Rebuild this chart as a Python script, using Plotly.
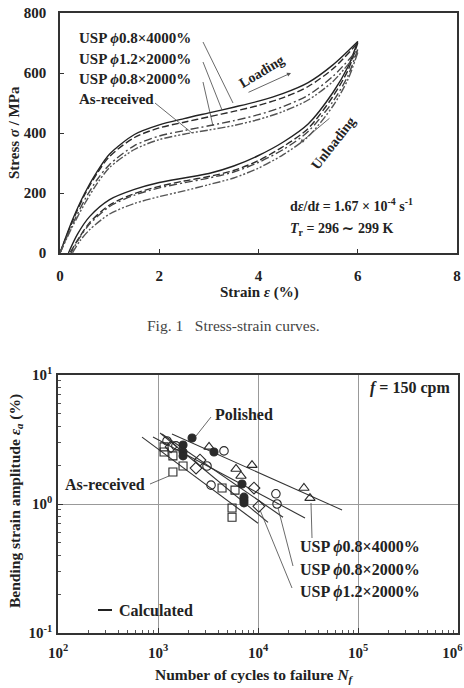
import plotly.graph_objects as go

W, H = 464, 688
FONT = "Liberation Serif"
INK = "#222222"

# ---------------- Top chart: stress-strain curves ----------------
load_strain = [0, 0.25, 0.5, 0.75, 1.0, 1.5, 2.0, 2.5, 3.0, 3.5, 4.0, 4.5, 5.0, 5.5, 6.0]

usp08_4000_load = [0, 110, 200, 272, 330, 395, 427, 448, 467, 486, 506, 532, 568, 627, 705]
usp12_2000_load = [0, 105, 195, 266, 322, 385, 417, 436, 454, 472, 492, 518, 555, 614, 700]
usp08_2000_load = [0, 95, 178, 245, 295, 358, 390, 408, 424, 441, 461, 488, 526, 589, 678]
asrec_load = [0, 88, 165, 232, 285, 345, 378, 396, 410, 425, 445, 472, 510, 572, 668]

usp08_4000_unload_strain = [6.0, 5.8, 5.5, 5.0, 4.5, 4.0, 3.5, 3.0, 2.5, 2.0, 1.5, 1.0, 0.6, 0.35, 0.17]
usp08_4000_unload = [705, 620, 535, 430, 370, 325, 290, 265, 250, 235, 212, 178, 122, 62, 0]
usp12_2000_unload_strain = [6.0, 5.8, 5.5, 5.0, 4.5, 4.0, 3.5, 3.0, 2.5, 2.0, 1.5, 1.0, 0.6, 0.4, 0.2]
usp12_2000_unload = [700, 608, 522, 415, 355, 308, 275, 255, 240, 222, 198, 160, 102, 55, 0]
usp08_2000_unload_strain = [6.0, 5.8, 5.5, 5.0, 4.5, 4.0, 3.5, 3.0, 2.5, 2.0, 1.5, 1.0, 0.6, 0.4, 0.22]
usp08_2000_unload = [678, 590, 505, 405, 345, 302, 270, 250, 234, 217, 193, 155, 97, 52, 0]
asrec_unload_strain = [6.0, 5.8, 5.5, 5.0, 4.5, 4.0, 3.5, 3.0, 2.5, 2.0, 1.5, 1.0, 0.6, 0.4, 0.25]
asrec_unload = [668, 578, 490, 388, 328, 283, 250, 228, 207, 188, 165, 130, 78, 40, 0]

top_xticks = [0, 2, 4, 6, 8]
top_yticks = [0, 200, 400, 600, 800]

# ---------------- Bottom chart: fatigue data ----------------
tri_N = [3240, 6030, 6760, 8710, 28800, 33100]          # USP phi0.8 x 4000%
tri_e = [2.77, 1.87, 1.65, 2.00, 1.33, 1.11]
pol_N = [2190, 1780, 1780, 1780, 3630, 6920, 7240, 7240, 7240]   # Polished
pol_e = [3.25, 2.87, 2.53, 2.36, 2.53, 1.43, 1.13, 1.07, 1.02]
cir_N = [1230, 1510, 4570, 3090, 3390, 15100, 15500]     # USP phi0.8 x 2000%
cir_e = [3.08, 2.82, 2.58, 1.97, 1.40, 1.20, 1.00]
dia_N = [1350, 2630, 2400, 9120, 10200]                  # USP phi1.2 x 2000%
dia_e = [2.77, 2.19, 1.90, 1.33, 0.96]
sq_N = [1150, 1150, 1410, 1780, 1410, 4370, 5890, 5500, 5500]   # As-received
sq_e = [2.77, 2.53, 2.36, 1.97, 1.77, 1.33, 1.28, 0.93, 0.79]

# calculated lines (end points)
calc_tri_N = [1380, 69200]; calc_tri_e = [3.49, 0.90]
calc_cir_N = [891, 29500];  calc_cir_e = [3.30, 0.78]
calc_dia_N = [1096, 17800]; calc_dia_e = [3.49, 0.79]
calc_pol_N = [1050, 12600]; calc_pol_e = [3.55, 0.72]
calc_asr_N = [692, 10000];  calc_asr_e = [3.30, 0.71]

bot_xticks = [1e2, 1e3, 1e4, 1e5, 1e6]
bot_xlabels = ["10<sup>2</sup>", "10<sup>3</sup>", "10<sup>4</sup>", "10<sup>5</sup>",
               "10<sup>6</sup>\u00a0\u00a0\u00a0"]
bot_yticks = [0.1, 1, 10]
bot_ylabels = ["10<sup>-1</sup>", "10<sup>0</sup>", "10<sup>1</sup>"]


def px(x, y):
    return x / W, 1 - y / H


fig = go.Figure()

dash_styles = {
    "solid": "solid",
    "dash": "7px,3px",
    "dashdot": "8px,3px,2px,3px",
    "dashdotdot": "8px,2px,2px,2px,2px,2px",
}
top_series = [
    (usp08_4000_load, usp08_4000_unload_strain, usp08_4000_unload, "solid", "#222"),
    (usp12_2000_load, usp12_2000_unload_strain, usp12_2000_unload, "dash", "#2a2a2a"),
    (usp08_2000_load, usp08_2000_unload_strain, usp08_2000_unload, "dashdot", "#444"),
    (asrec_load, asrec_unload_strain, asrec_unload, "dashdotdot", "#555"),
]
for ld, us, ul, ds, col in top_series:
    for xs, ys in ((load_strain, ld), (us, ul)):
        fig.add_trace(go.Scatter(
            x=xs, y=ys, mode="lines", xaxis="x", yaxis="y",
            line=dict(color=col, width=1.4, dash=dash_styles[ds], shape="spline", smoothing=0.8),
            showlegend=False, hoverinfo="skip"))

# bottom: calculated lines
for xs, ys in ((calc_tri_N, calc_tri_e), (calc_cir_N, calc_cir_e), (calc_dia_N, calc_dia_e),
               (calc_pol_N, calc_pol_e), (calc_asr_N, calc_asr_e)):
    fig.add_trace(go.Scatter(x=xs, y=ys, mode="lines", xaxis="x2", yaxis="y2",
                             line=dict(color="#333", width=1.1), showlegend=False, hoverinfo="skip"))

marker_sets = [
    (sq_N, sq_e, "square-open", 8),
    (dia_N, dia_e, "diamond-open", 9),
    (cir_N, cir_e, "circle-open", 8.5),
    (tri_N, tri_e, "triangle-up-open", 9),
    (pol_N, pol_e, "circle", 8),
]
for xs, ys, sym, sz in marker_sets:
    fig.add_trace(go.Scatter(
        x=xs, y=ys, mode="markers", xaxis="x2", yaxis="y2",
        marker=dict(symbol=sym, size=sz, color="#2a2a2a",
                    line=dict(color="#2a2a2a", width=1.1)),
        showlegend=False, hoverinfo="skip"))

tickfont = dict(family=FONT, size=15, color=INK, weight="bold")
axis_common = dict(showline=True, linecolor="#333", linewidth=1.5, mirror=True,
                   ticks="inside", tickcolor="#333", automargin=False, zeroline=False,
                   ticklabeloverflow="allow")

minor_x = [d * 10 ** k for k in range(2, 6) for d in range(2, 10)]
minor_y = [d * 10 ** k for k in range(-1, 1) for d in range(2, 10)]

fig.update_layout(
    width=W, height=H, margin=dict(l=0, r=0, t=0, b=0),
    paper_bgcolor="white", plot_bgcolor="white", showlegend=False,
    xaxis=dict(domain=[60 / W, 457 / W], anchor="y", range=[0, 8], tickvals=top_xticks,
               ticklen=4, tickfont=tickfont, showgrid=False, ticklabelstandoff=8, **axis_common),
    yaxis=dict(domain=[1 - 253 / H, 1 - 13 / H], anchor="x", range=[0, 800], tickvals=top_yticks,
               ticklen=4, tickfont=tickfont, showgrid=False, ticklabelstandoff=9, **axis_common),
    xaxis2=dict(domain=[58 / W, 458 / W], anchor="y2", type="log", range=[2, 6],
                tickvals=bot_xticks, ticktext=bot_xlabels, ticklen=5, tickfont=tickfont,
                showgrid=True, gridcolor="#999", gridwidth=0.9, ticklabelstandoff=5,
                minor=dict(tickmode="array", tickvals=minor_x, ticks="inside", ticklen=3,
                           tickcolor="#555", showgrid=False),
                **axis_common),
    yaxis2=dict(domain=[1 - 633 / H, 1 - 375 / H], anchor="x2", type="log", range=[-1, 1],
                tickvals=bot_yticks, ticktext=bot_ylabels, ticklen=5, tickfont=tickfont,
                showgrid=True, gridcolor="#999", gridwidth=0.9, ticklabelstandoff=1,
                minor=dict(tickmode="array", tickvals=minor_y, ticks="inside", ticklen=3,
                           tickcolor="#555", showgrid=False),
                **axis_common),
)


def ann(text, x, y, size=15, xanchor="center", yanchor="middle", angle=0, bold=True, color=INK):
    X, Y = px(x, y)
    return dict(text=text, x=X, y=Y, xref="paper", yref="paper", showarrow=False,
                xanchor=xanchor, yanchor=yanchor, textangle=angle,
                font=dict(family=FONT, size=size, color=color, weight="bold" if bold else "normal"))


def arrow(x0, y0, x1, y1, color="#555"):
    X, Y = px(x1, y1)
    return dict(text="", x=X, y=Y, xref="paper", yref="paper", showarrow=True,
                ax=x0 - x1, ay=y0 - y1, axref="pixel", ayref="pixel",
                arrowhead=2, arrowsize=0.9, arrowwidth=0.9, arrowcolor=color)


phi = "<i>ϕ</i>"
anns = [
    # top chart
    ann("Stress <i>σ</i> / MPa", 14, 133, angle=-90),
    ann("Strain <i>ε</i> (%)", 259, 292),
    ann(f"USP {phi}0.8×4000%", 77, 38, xanchor="left"),
    ann(f"USP {phi}1.2×2000%", 77, 59, xanchor="left"),
    ann(f"USP {phi}0.8×2000%", 77, 79, xanchor="left"),
    ann("As-received", 77, 99, xanchor="left"),
    ann("Loading", 262, 72, size=14, angle=-31),
    ann("Unloading", 333, 143, size=14, angle=-52),
    ann("d<i>ε</i>/d<i>t</i> = 1.67 × 10<sup>-4</sup> s<sup>-1</sup>", 288, 205, size=14, xanchor="left"),
    ann("<i>T</i><sub>r</sub> = 296 ∼ 299 K", 288, 229, size=14, xanchor="left"),
    arrow(247, 93, 291, 73),
    arrow(331, 117, 300, 143),
    # caption
    ann("Fig. 1\u00a0\u00a0\u00a0Stress-strain curves.", 233, 325, size=15.5, bold=False, color="#444"),
    # bottom chart
    ann("Bending strain amplitude <i>ε</i><sub><i>a</i></sub> (%)", 15, 501, size=15.5, angle=-90),
    ann("Number of cycles to failure <i>N</i><sub><i>f</i></sub>", 255, 675, size=15.5),
    ann("<i>f</i> = 150 cpm", 452, 388, size=16, xanchor="right"),
    ann("Polished", 213, 414, size=16, xanchor="left"),
    ann("As-received", 147, 484, size=16, xanchor="right"),
    ann(f"USP {phi}0.8×4000%", 298, 547, size=16, xanchor="left"),
    ann(f"USP {phi}0.8×2000%", 298, 570, size=16, xanchor="left"),
    ann(f"USP {phi}1.2×2000%", 298, 592, size=16, xanchor="left"),
    ann("Calculated", 117, 610, size=16, xanchor="left"),
]
fig.update_layout(annotations=anns)

leaders = [
    # top chart leaders
    (203, 42, 233, 103), (203, 62, 222, 110), (203, 82, 213, 126), (155, 103, 192, 133),
    # bottom chart leaders
    (211, 417, 196, 436), (150, 484, 169, 476),
    (312, 538, 311, 503), (293, 566, 278, 508), (292, 588, 260, 510),
]
shapes = []
for x0, y0, x1, y1 in leaders:
    a, b = px(x0, y0)
    c, d = px(x1, y1)
    shapes.append(dict(type="line", xref="paper", yref="paper", x0=a, y0=b, x1=c, y1=d,
                       line=dict(color="#444", width=0.8)))
# legend dash for "Calculated"
a, b = px(98, 610); c, d = px(112, 610)
shapes.append(dict(type="line", xref="paper", yref="paper", x0=a, y0=b, x1=c, y1=d,
                   line=dict(color="#222", width=2)))
fig.update_layout(shapes=shapes)

fig.write_html("out.html")
